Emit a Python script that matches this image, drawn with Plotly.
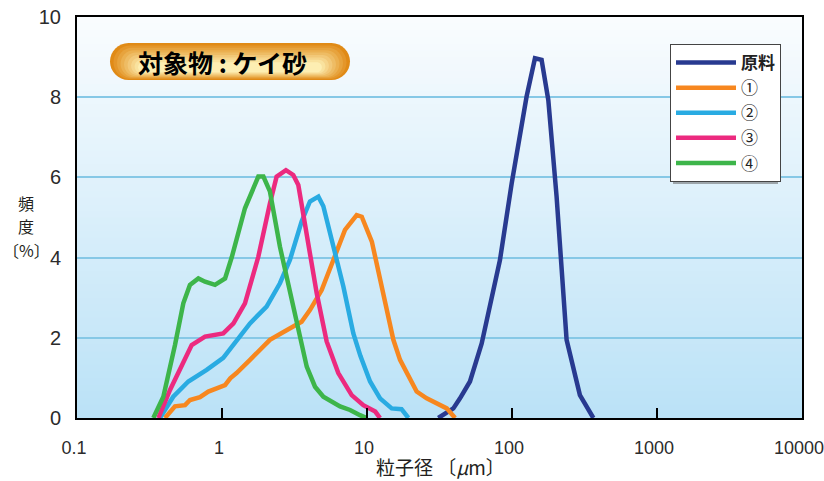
import plotly.graph_objects as go

# ---- data ----
raw_x = [31.0, 39.4, 43.8, 51.3, 61.8, 82.6, 99.5, 126, 144, 160, 178, 203, 238, 294, 364]
raw_y = [0, 0.24, 0.49, 0.91, 1.86, 3.94, 5.85, 8.01, 8.97, 8.93, 7.93, 5.52, 1.95, 0.57, 0]

s1_x = [0.404, 0.474, 0.556, 0.602, 0.705, 0.805, 0.919, 1.05, 1.14, 1.26, 1.56, 2.14, 2.79, 3.54,
        4.04, 4.87, 5.86, 7.05, 8.49, 9.2, 10.8, 12.6, 15.2, 16.9, 22.0, 25.8, 35.5, 40.5]
s1_y = [0, 0.29, 0.32, 0.45, 0.52, 0.66, 0.74, 0.82, 0.99, 1.12, 1.45, 1.95, 2.19, 2.40,
        2.69, 3.19, 3.94, 4.69, 5.06, 5.02, 4.40, 3.30, 1.95, 1.45, 0.66, 0.49, 0.24, 0]

s2_x = [0.373, 0.461, 0.586, 0.784, 1.02, 1.26, 1.56, 2.03, 2.51, 2.94, 3.54, 4.04, 4.62, 5.00,
        5.86, 6.87, 8.05, 9.0, 10.5, 12.3, 14.8, 17.3, 19.3]
s2_y = [0, 0.53, 0.91, 1.20, 1.50, 1.91, 2.36, 2.78, 3.36, 3.94, 4.90, 5.40, 5.52, 5.28,
        4.31, 3.28, 2.11, 1.55, 0.91, 0.49, 0.24, 0.22, 0]

s3_x = [0.364, 0.438, 0.618, 0.764, 1.02, 1.20, 1.44, 1.78, 2.14, 2.38, 2.76, 3.10, 3.36, 3.74,
        4.50, 5.27, 6.34, 7.84, 9.43, 11.4, 12.3]
s3_y = [0, 0.70, 1.82, 2.03, 2.11, 2.36, 2.86, 4.02, 5.35, 6.02, 6.18, 6.06, 5.81, 4.77,
        3.11, 1.91, 1.12, 0.57, 0.32, 0.16, 0]

s4_x = [0.336, 0.394, 0.474, 0.541, 0.601, 0.687, 0.764, 0.895, 1.05, 1.17, 1.44, 1.78, 1.93, 2.14,
        2.51, 2.94, 3.45, 3.84, 4.38, 5.00, 6.52, 7.64, 8.95, 9.95]
s4_y = [0, 0.53, 1.82, 2.86, 3.32, 3.48, 3.40, 3.32, 3.48, 4.02, 5.23, 6.02, 6.02, 5.65,
        4.27, 3.11, 2.03, 1.28, 0.78, 0.53, 0.29, 0.20, 0.07, 0]

names = ["<b>原料</b>", "①", "②", "③", "④"]
colors = ["#283a90", "#f7871f", "#29abe2", "#ec2a7f", "#3db54a"]
series = [(raw_x, raw_y), (s1_x, s1_y), (s2_x, s2_y), (s3_x, s3_y), (s4_x, s4_y)]

x_tickvals = [0.1, 1, 10, 100, 1000, 10000]
x_ticktext = ["0.1", "1", "10", "100", "1000", "10000"]
y_tickvals = [0, 2, 4, 6, 8, 10]
y_title_lines = ["頻", "度", "〔%〕"]

# ---- layout geometry ----
W, H = 824, 481
L, R, T, B = 77, 802, 17, 418


def pp(px, py):
    return ((px - L) / (R - L), (B - py) / (B - T))


def rr_path(x0, y0, x1, y1, r):
    k = 0.5523 * r
    pts = [
        ("M", [(x0 + r, y0)]),
        ("L", [(x1 - r, y0)]),
        ("C", [(x1 - r + k, y0), (x1, y0 + r - k), (x1, y0 + r)]),
        ("L", [(x1, y1 - r)]),
        ("C", [(x1, y1 - r + k), (x1 - r + k, y1), (x1 - r, y1)]),
        ("L", [(x0 + r, y1)]),
        ("C", [(x0 + r - k, y1), (x0, y1 - r + k), (x0, y1 - r)]),
        ("L", [(x0, y0 + r)]),
        ("C", [(x0, y0 + r - k), (x0 + r - k, y0), (x0 + r, y0)]),
    ]
    s = ""
    for cmd, ps in pts:
        s += cmd + " ".join("%.5f,%.5f" % pp(a, b) for a, b in ps) + " "
    return s + "Z"


def lerp_color(c0, c1, t):
    a = [int(c0[i:i + 2], 16) for i in (1, 3, 5)]
    b = [int(c1[i:i + 2], 16) for i in (1, 3, 5)]
    return "#%02x%02x%02x" % tuple(round(a[i] + (b[i] - a[i]) * t) for i in range(3))


fig = go.Figure()
for (xs, ys), n, c in zip(series, names, colors):
    fig.add_trace(go.Scatter(x=xs, y=ys, mode="lines", name=n,
                             line=dict(color=c, width=4.5)))

shapes = []
# gradient background of plot area
nb = 60
for i in range(nb):
    t = i / (nb - 1)
    shapes.append(dict(type="rect", xref="paper", yref="paper", layer="below",
                       x0=0, x1=1, y0=1 - (i + 1) / nb - 0.002, y1=1 - i / nb,
                       line=dict(width=0),
                       fillcolor=lerp_color("#f9fcfe", "#bbe2f7", t)))

# badge
bx0, by0, bx1, by1 = 110, 43, 350, 80
nl = 9
for i in range(nl):
    t = i / (nl - 1)
    ins = i * 1.6
    x0 = bx0 + ins * 2.2
    x1 = bx1 - ins * 2.2
    y0 = by0 + ins * 1.5
    y1 = by1 - ins * 0.6
    r = min((y1 - y0) / 2, (x1 - x0) / 2)
    shapes.append(dict(type="path", xref="paper", yref="paper", layer="above",
                       path=rr_path(x0, y0, x1, y1, r), line=dict(width=0),
                       fillcolor=lerp_color("#e08a16", "#fdeeb2", t)))

# legend drop shadow
sx0, sy0 = pp(673, 47)
sx1, sy1 = pp(778, 184)
shapes.append(dict(type="rect", xref="paper", yref="paper", layer="above",
                   x0=sx0, y0=sy0, x1=sx1, y1=sy1, line=dict(width=0),
                   fillcolor="rgba(90,90,90,0.5)"))

annotations = [
    dict(text="<b>対象物 : ケイ砂</b>", xref="paper", yref="paper",
         x=pp(222, 0)[0], y=pp(0, 62)[1], xanchor="center", yanchor="middle",
         showarrow=False,
         font=dict(family="Noto Sans CJK JP", size=25, color="black")),
    dict(text="粒子径 〔<i>μ</i>m〕", xref="paper", yref="paper",
         x=pp(440, 0)[0], y=pp(0, 466)[1], xanchor="center", yanchor="middle",
         showarrow=False,
         font=dict(family="Noto Sans CJK JP", size=19, color="#231f20")),
]
for txt, py in zip(y_title_lines, [203, 226, 250]):
    annotations.append(dict(text=txt, xref="paper", yref="paper",
                            x=pp(26, 0)[0], y=pp(0, py)[1],
                            xanchor="center", yanchor="middle", showarrow=False,
                            borderpad=0,
                            font=dict(family="Noto Sans CJK JP", size=16, color="#231f20")))

fig.update_layout(
    width=W, height=H,
    margin=dict(l=L, r=W - R, t=T, b=H - B, autoexpand=False),
    paper_bgcolor="white",
    plot_bgcolor="#dff0fa",
    shapes=shapes,
    showlegend=True,
    legend=dict(
        x=pp(670, 0)[0], y=pp(0, 44)[1], xanchor="left", yanchor="top",
        bgcolor="white", bordercolor="#444444", borderwidth=1,
        font=dict(family="Noto Sans CJK JP", size=17, color="#222"),
        itemwidth=60,
    ),
    xaxis=dict(
        type="log", range=[-1, 4], automargin=False,
        tickvals=x_tickvals, ticktext=x_ticktext,
        ticks="inside", ticklen=10, tickwidth=1.5, tickcolor="black",
        showgrid=False, zeroline=False,
        showline=True, linecolor="black", linewidth=2, mirror=True,
        tickfont=dict(family="Liberation Sans", size=18, color="#2b2b2b"),
        ticklabelstandoff=12, ticklabelshift=-3, ticklabeloverflow="allow",
    ),
    yaxis=dict(
        range=[0, 10], tickvals=y_tickvals, automargin=False,
        ticks="", showgrid=True, gridcolor="#86c8e6", gridwidth=1.5,
        zeroline=False,
        showline=True, linecolor="black", linewidth=2, mirror=True,
        tickfont=dict(family="Liberation Sans", size=20, color="#2b2b2b"),
        ticklabelstandoff=10, ticklabeloverflow="allow",
    ),
    annotations=annotations,
)

fig.write_html("out.html", config={"displayModeBar": False},
               post_script="document.body.style.margin='0px';")
